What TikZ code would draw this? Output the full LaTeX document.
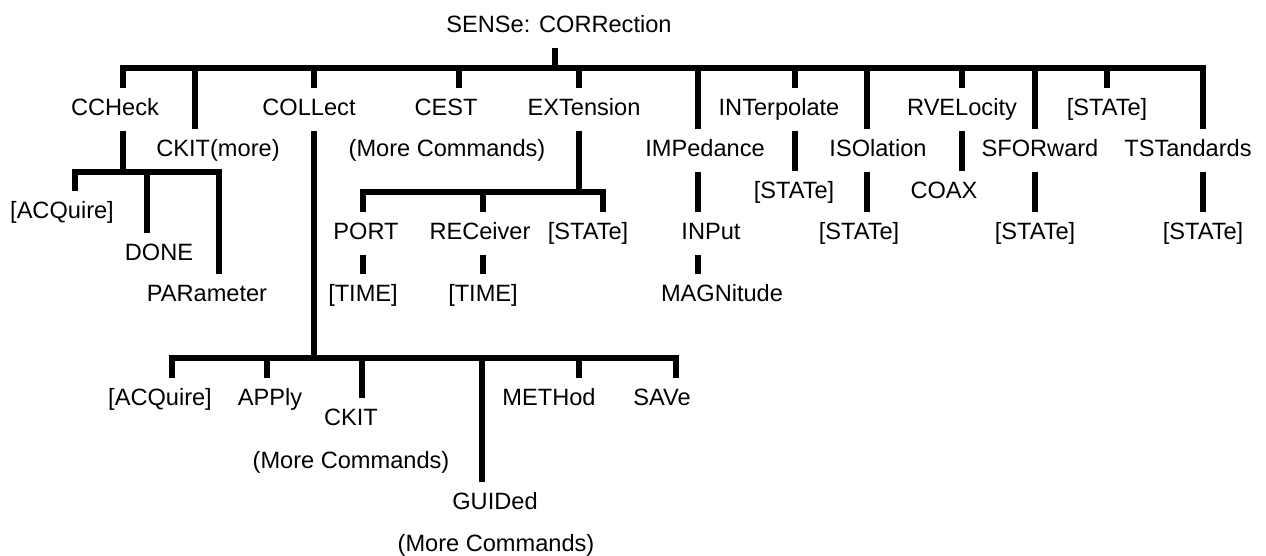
\documentclass[tikz,border=0pt]{standalone}
\usepackage{fontspec}
\setmainfont{Liberation Sans}
\usepackage{tikz}
\usetikzlibrary{calc}
\tikzstyle{cmd} = [inner sep=0pt, text height=16.8pt, text depth=0pt, font=\fontsize{23.6pt}{28pt}\selectfont]
\tikzstyle{bar} = [line width=6pt, line cap=rect]
\tikzstyle{stub} = [line width=5.6pt]
\tikzstyle{down} = [stub, shorten >=10.5pt]
\tikzstyle{up} = [stub, shorten <=15pt]
\tikzstyle{link} = [stub, shorten <=15pt, shorten >=10.5pt]

\begin{document}
\begin{tikzpicture}[x=1pt, y=-1pt]

        \useasboundingbox (0,0) rectangle (1266,555);

        % Root
        \node at (559,24) [cmd] (root) {SENSe: CORRection};

        % Top bar
        \coordinate (t-root) at (555,68);
        \coordinate (t-cchk) at (123,68);
        \coordinate (t-ckit) at (195,68);
        \coordinate (t-coll) at (314,68);
        \coordinate (t-cest) at (459,68);
        \coordinate (t-ext) at (579,68);
        \coordinate (t-imp) at (698,68);
        \coordinate (t-int) at (795,68);
        \coordinate (t-iso) at (867,68);
        \coordinate (t-rvel) at (962,68);
        \coordinate (t-sfor) at (1035,68);
        \coordinate (t-stat) at (1107,68);
        \coordinate (t-tst) at (1203,68);
        \draw [up] (t-root |- root.south) -- (t-root);
        \draw [bar] (t-cchk) -- (t-tst);

        % First level, upper row
        \node at (115,107) [cmd] (cchk) {CCHeck};
        \node at (309,107) [cmd] (coll) {COLLect};
        \node at (446,107) [cmd] (cest) {CEST};
        \node at (584,107) [cmd] (ext) {EXTension};
        \node at (779,107) [cmd] (int) {INTerpolate};
        \node at (962,107) [cmd] (rvel) {RVELocity};
        \node at (1107,107) [cmd] (stat) {[STATe]};
        \draw [down] (t-cchk) -- (t-cchk |- cchk.north);
        \draw [down] (t-coll) -- (t-coll |- coll.north);
        \draw [down] (t-cest) -- (t-cest |- cest.north);
        \draw [down] (t-ext) -- (t-ext |- ext.north);
        \draw [down] (t-int) -- (t-int |- int.north);
        \draw [down] (t-rvel) -- (t-rvel |- rvel.north);
        \draw [down] (t-stat) -- (t-stat |- stat.north);

        % First level, lower row
        \node at (218,148) [cmd] (ckit) {CKIT(more)};
        \node at (447,148) [cmd] (cestmore) {(More Commands)};
        \node at (705,148) [cmd] (imp) {IMPedance};
        \node at (878,148) [cmd] (iso) {ISOlation};
        \node at (1040,148) [cmd] (sfor) {SFORward};
        \node at (1188,148) [cmd] (tst) {TSTandards};
        \draw [down] (t-ckit) -- (t-ckit |- ckit.north);
        \draw [down] (t-imp) -- (t-imp |- imp.north);
        \draw [down] (t-iso) -- (t-iso |- iso.north);
        \draw [down] (t-sfor) -- (t-sfor |- sfor.north);
        \draw [down] (t-tst) -- (t-tst |- tst.north);

        % CCHeck branch
        \coordinate (c-acq) at (75,172);
        \coordinate (c-done) at (147,172);
        \coordinate (c-par) at (219,172);
        \draw [up] (t-cchk |- cchk.south) -- (t-cchk |- c-acq);
        \draw [bar] (c-acq) -- (c-par);
        \node at (62,210) [cmd] (cacq) {[ACQuire]};
        \node at (159,252) [cmd] (cdone) {DONE};
        \node at (207,293) [cmd] (cpar) {PARameter};
        \draw [down] (c-acq) -- (c-acq |- cacq.north);
        \draw [down] (c-done) -- (c-done |- cdone.north);
        \draw [down] (c-par) -- (c-par |- cpar.north);

        % EXTension branch
        \coordinate (e-port) at (363,192);
        \coordinate (e-rec) at (483,192);
        \coordinate (e-stat) at (603,192);
        \draw [up] (t-ext |- ext.south) -- (t-ext |- e-port);
        \draw [bar] (e-port) -- (e-stat);
        \node at (366,231) [cmd] (port) {PORT};
        \node at (480,231) [cmd] (rec) {RECeiver};
        \node at (588,231) [cmd] (estat) {[STATe]};
        \draw [down] (e-port) -- (e-port |- port.north);
        \draw [down] (e-rec) -- (e-rec |- rec.north);
        \draw [down] (e-stat) -- (e-stat |- estat.north);
        \node at (363,293) [cmd] (ptime) {[TIME]};
        \node at (483,293) [cmd] (rtime) {[TIME]};
        \draw [link] (e-port |- port.south) -- (e-port |- ptime.north);
        \draw [link] (e-rec |- rec.south) -- (e-rec |- rtime.north);

        % IMPedance branch
        \node at (711,231) [cmd] (inp) {INPut};
        \node at (722,293) [cmd] (mag) {MAGNitude};
        \draw [link] (t-imp |- imp.south) -- (t-imp |- inp.north);
        \draw [link] (t-imp |- inp.south) -- (t-imp |- mag.north);

        % Single children
        \node at (794,190) [cmd] (istat) {[STATe]};
        \node at (944,190) [cmd] (coax) {COAX};
        \node at (859,231) [cmd] (ostat) {[STATe]};
        \node at (1035,231) [cmd] (fstat) {[STATe]};
        \node at (1203,231) [cmd] (tstat) {[STATe]};
        \draw [link] (t-int |- int.south) -- (t-int |- istat.north);
        \draw [link] (t-rvel |- rvel.south) -- (t-rvel |- coax.north);
        \draw [link] (t-iso |- iso.south) -- (t-iso |- ostat.north);
        \draw [link] (t-sfor |- sfor.south) -- (t-sfor |- fstat.north);
        \draw [link] (t-tst |- tst.south) -- (t-tst |- tstat.north);

        % COLLect branch
        \coordinate (l-acq) at (172,358);
        \coordinate (l-appl) at (267,358);
        \coordinate (l-ckit) at (362,358);
        \coordinate (l-guid) at (482,358);
        \coordinate (l-meth) at (579,358);
        \coordinate (l-save) at (676,358);
        \draw [up] (t-coll |- coll.south) -- (t-coll |- l-acq);
        \draw [bar] (l-acq) -- (l-save);
        \node at (160,397) [cmd] (lacq) {[ACQuire]};
        \node at (270,397) [cmd] (lappl) {APPly};
        \node at (351,417) [cmd] (lckit) {CKIT};
        \node at (351,460) [cmd] (lckitmore) {(More Commands)};
        \node at (495,501) [cmd] (lguid) {GUIDed};
        \node at (496,543) [cmd] (lguidmore) {(More Commands)};
        \node at (549,397) [cmd] (lmeth) {METHod};
        \node at (662,397) [cmd] (lsave) {SAVe};
        \draw [down] (l-acq) -- (l-acq |- lacq.north);
        \draw [down] (l-appl) -- (l-appl |- lappl.north);
        \draw [down] (l-ckit) -- (l-ckit |- lckit.north);
        \draw [down] (l-guid) -- (l-guid |- lguid.north);
        \draw [down] (l-meth) -- (l-meth |- lmeth.north);
        \draw [down] (l-save) -- (l-save |- lsave.north);

\end{tikzpicture}
\end{document}
